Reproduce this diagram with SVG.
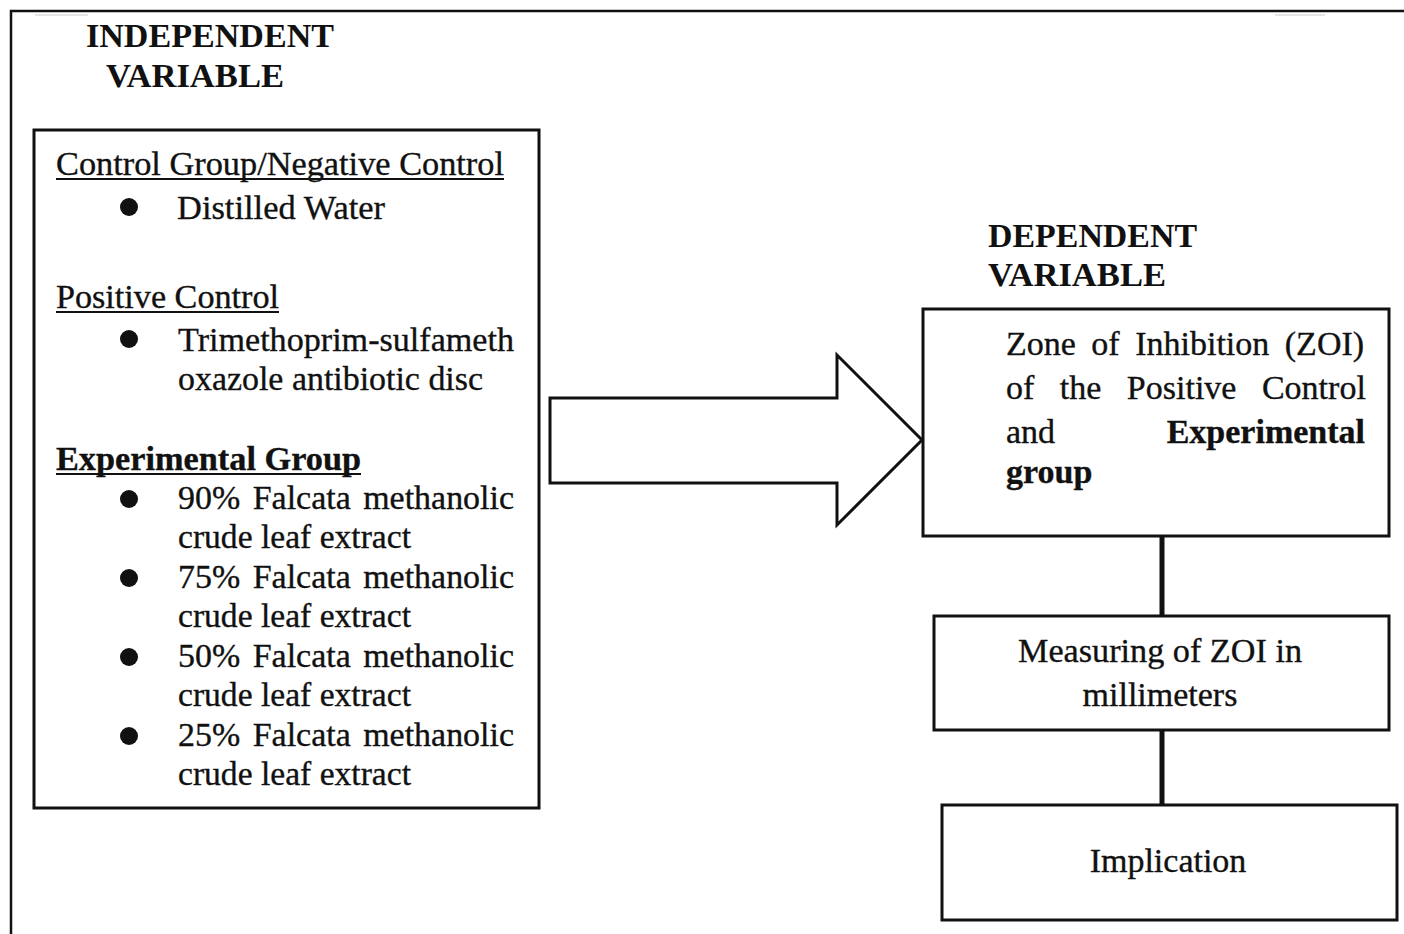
<svg xmlns="http://www.w3.org/2000/svg" width="1404" height="934" viewBox="0 0 1404 934">
<style>
.t{font-family:"Liberation Serif","Times New Roman",serif;font-size:34px;fill:#111;stroke:#111;stroke-width:0.35}
.b{font-weight:bold}
.h{font-family:"Liberation Serif","Times New Roman",serif;font-size:33px;font-weight:bold;fill:#111}
.box{fill:#fff;stroke:#111;stroke-width:3}
.ul{stroke:#111;stroke-width:2}
.con{stroke:#111;stroke-width:5}
</style>
<rect width="1404" height="934" fill="#fff"/>
<g id="frame">
<path d="M11,934 V11 H1404" fill="none" stroke="#111" stroke-width="2.5"/>
<line x1="35" y1="15" x2="88" y2="15" stroke="#ddd" stroke-width="1.5"/>
<line x1="1275" y1="15" x2="1325" y2="15" stroke="#ddd" stroke-width="1.5"/>
</g>
<g id="iv-title">
<text class="h" x="86" y="47" textLength="248" lengthAdjust="spacingAndGlyphs">INDEPENDENT</text>
<text class="h" x="106" y="87" textLength="178" lengthAdjust="spacingAndGlyphs">VARIABLE</text>
</g>
<g id="independent">
<rect class="box" x="34" y="130" width="505" height="678"/>
<text class="t" x="56" y="175" textLength="448" lengthAdjust="spacingAndGlyphs">Control Group/Negative Control</text>
<line class="ul" x1="56" y1="179" x2="504" y2="179"/>
<circle cx="129" cy="207" r="9" fill="#111"/>
<text class="t" x="177" y="219" textLength="208" lengthAdjust="spacingAndGlyphs">Distilled Water</text>
<text class="t" x="56" y="308" textLength="223" lengthAdjust="spacingAndGlyphs">Positive Control</text>
<line class="ul" x1="56" y1="312" x2="279" y2="312"/>
<circle cx="129" cy="339" r="9" fill="#111"/>
<text class="t" x="178" y="351" textLength="336" lengthAdjust="spacingAndGlyphs">Trimethoprim-sulfameth</text>
<text class="t" x="178" y="390" textLength="305" lengthAdjust="spacingAndGlyphs">oxazole antibiotic disc</text>
<text class="t b" x="56" y="470" textLength="305" lengthAdjust="spacingAndGlyphs">Experimental Group</text>
<line class="ul" x1="56" y1="474" x2="361" y2="474"/>
<circle cx="129" cy="499" r="9" fill="#111"/>
<text class="t" x="178" y="509" textLength="336" lengthAdjust="spacingAndGlyphs" word-spacing="4">90% Falcata methanolic</text>
<text class="t" x="178" y="548" textLength="233" lengthAdjust="spacingAndGlyphs">crude leaf extract</text>
<circle cx="129" cy="578" r="9" fill="#111"/>
<text class="t" x="178" y="588" textLength="336" lengthAdjust="spacingAndGlyphs" word-spacing="4">75% Falcata methanolic</text>
<text class="t" x="178" y="627" textLength="233" lengthAdjust="spacingAndGlyphs">crude leaf extract</text>
<circle cx="129" cy="657" r="9" fill="#111"/>
<text class="t" x="178" y="667" textLength="336" lengthAdjust="spacingAndGlyphs" word-spacing="4">50% Falcata methanolic</text>
<text class="t" x="178" y="706" textLength="233" lengthAdjust="spacingAndGlyphs">crude leaf extract</text>
<circle cx="129" cy="736" r="9" fill="#111"/>
<text class="t" x="178" y="746" textLength="336" lengthAdjust="spacingAndGlyphs" word-spacing="4">25% Falcata methanolic</text>
<text class="t" x="178" y="785" textLength="233" lengthAdjust="spacingAndGlyphs">crude leaf extract</text>
</g>
<g id="arrow">
<polygon points="550,398 837,398 837,355 922,440 837,525 837,483 550,483" fill="#fff" stroke="#111" stroke-width="3" stroke-linejoin="miter"/>
</g>
<g id="dv-title">
<text class="h" x="988" y="247" textLength="209" lengthAdjust="spacingAndGlyphs">DEPENDENT</text>
<text class="h" x="988" y="286" textLength="178" lengthAdjust="spacingAndGlyphs">VARIABLE</text>
</g>
<g id="connectors">
<line class="con" x1="1162" y1="537" x2="1162" y2="616"/>
<line class="con" x1="1162" y1="730" x2="1162" y2="805"/>
</g>
<g id="zoi">
<rect class="box" x="923" y="309" width="466" height="227"/>
<text class="t" x="1006" y="355" word-spacing="7">Zone of Inhibition (ZOI)</text>
<text class="t" x="1006" y="399" word-spacing="17">of the Positive Control</text>
<text class="t" x="1006" y="443">and</text>
<text class="t b" x="1365" y="443" text-anchor="end">Experimental</text>
<text class="t b" x="1006" y="483">group</text>
</g>
<g id="measuring">
<rect class="box" x="934" y="616" width="455" height="114"/>
<text class="t" x="1160" y="662" text-anchor="middle" textLength="284" lengthAdjust="spacingAndGlyphs">Measuring of ZOI in</text>
<text class="t" x="1160" y="706" text-anchor="middle">millimeters</text>
</g>
<g id="implication">
<rect class="box" x="942" y="805" width="455" height="115"/>
<text class="t" x="1168" y="872" text-anchor="middle">Implication</text>
</g>
</svg>
